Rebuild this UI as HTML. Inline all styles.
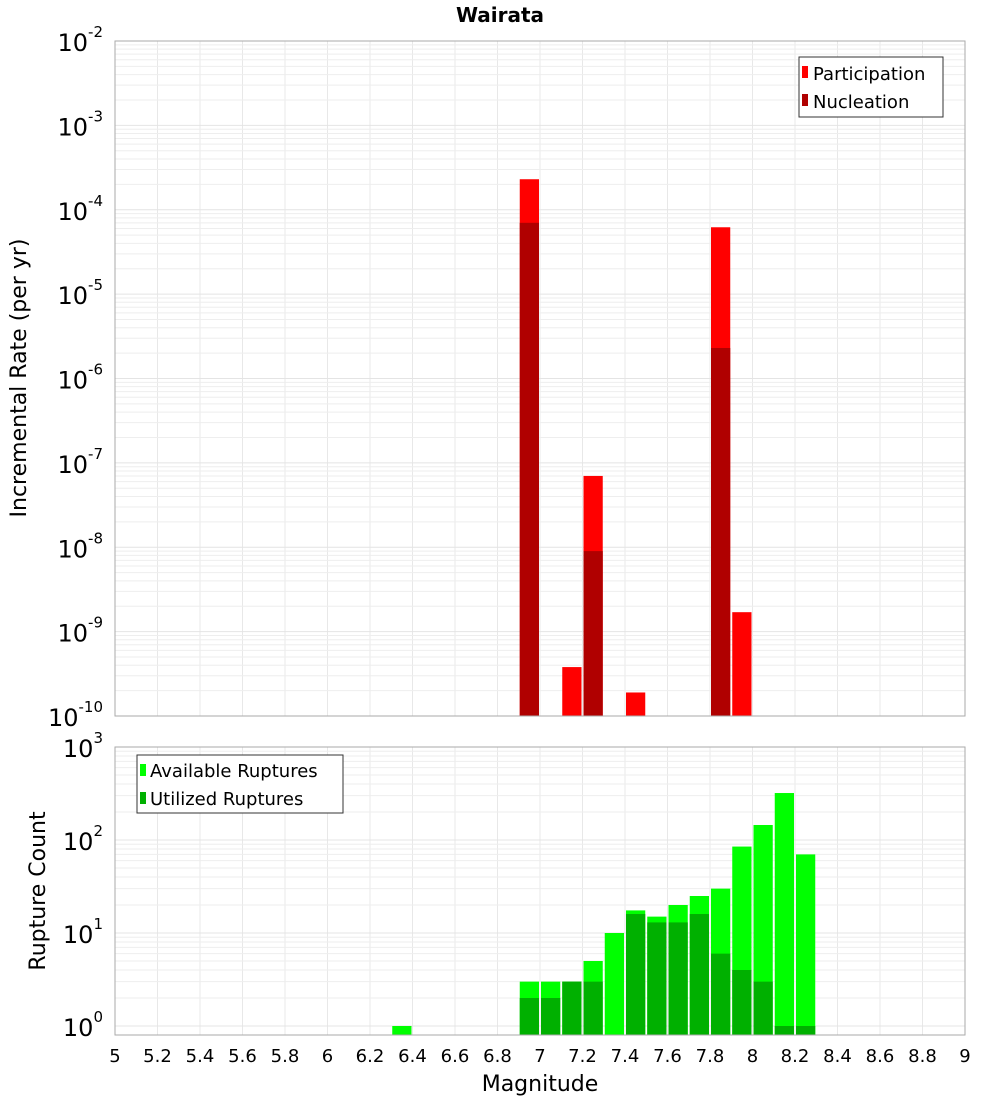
<!DOCTYPE html>
<html><head><meta charset="utf-8"><style>
body{margin:0;background:#fff;font-family:"Liberation Sans","DejaVu Sans",sans-serif}
</style></head><body>
<svg id="c" width="1000" height="1100" xmlns="http://www.w3.org/2000/svg" font-family="DejaVu Sans, Liberation Sans, sans-serif">
<text x="500" y="22" text-anchor="middle" font-size="20" font-weight="bold">Wairata</text>
<g id="top"></g><g id="bot"></g>
<text transform="translate(26,378) rotate(-90)" text-anchor="middle" font-size="22">Incremental Rate (per yr)</text>
<text transform="translate(45,891) rotate(-90)" text-anchor="middle" font-size="22">Rupture Count</text>
<text x="540" y="1091" text-anchor="middle" font-size="22">Magnitude</text>
</svg>
<script>
const topBins=[6.95,7.15,7.25,7.45,7.85,7.95];
const participation=[2.3e-4,3.8e-10,7e-8,1.9e-10,6.2e-5,1.7e-9];
const nucleation=[7e-5,0,9e-9,0,2.3e-6,0];
const botBins=[6.35,6.95,7.05,7.15,7.25,7.35,7.45,7.55,7.65,7.75,7.85,7.95,8.05,8.15,8.25];
const available=[1,3,3,3,5,10,17.5,15,20,25,30,85,145,320,70];
const utilized=[0,2,2,3,3,0,16,13,13,16,6,4,3,1,1];
const xTicks=["5","5.2","5.4","5.6","5.8","6","6.2","6.4","6.6","6.8","7","7.2","7.4","7.6","7.8","8","8.2","8.4","8.6","8.8","9"];
const NS="http://www.w3.org/2000/svg";
const X0=115,X1=965;
const xs=m=>X0+(m-5)/4*(X1-X0);
function el(p,t,a){const e=document.createElementNS(NS,t);for(const k in a)e.setAttribute(k,a[k]);p.appendChild(e);return e;}
function panel(g,top,bot,yDec0,yDec1,y0pix,decPx){
  const ys=v=>y0pix-(Math.log10(v)-yDec0)*decPx;
  // grid
  for(let i=0;i<=20;i++){const x=xs(5+i*0.2);const l=el(g,'line',{x1:x,x2:x,y1:top,y2:bot,stroke:'#e8e8e8'});}
  for(let d=yDec0;d<yDec1;d++)for(let k=1;k<10;k++){const y=ys(k*Math.pow(10,d));if(y<top||y>bot)continue;const l=el(g,'line',{x1:X0,x2:X1,y1:y,y2:y,stroke:k==1?'#e4e4e4':'#eeeeee'});}
  return ys;
}
function bar(g,m,v,ys,bot,col,name){
  if(!v)return;const y=Math.min(ys(v),bot);
  const r=el(g,'rect',{x:xs(m-0.05)+1,y:y,width:xs(m+0.05)-xs(m-0.05)-2,height:bot-y,fill:col});
  
}
function yLabels(g,yDec0,yDec1,ys,off){
  for(let d=yDec0;d<=yDec1;d++){const y=ys(Math.pow(10,d))+off;
    const t=el(g,'text',{x:103,y:y+10,'text-anchor':'end','font-size':24});
    
    t.appendChild(document.createTextNode('10'));
    const s=el(t,'tspan',{dy:-14,'font-size':15});s.textContent=String(d);}
}
// top
const gt=document.getElementById('top');
const ysT=panel(gt,41,716,-10,-2,716,84.375);
topBins.forEach((m,i)=>bar(gt,m,participation[i],ysT,716,'#ff0000','participation-bar'));
topBins.forEach((m,i)=>bar(gt,m,nucleation[i],ysT,716,'#b00000','nucleation-bar'));
el(gt,'rect',{x:X0,y:41,width:X1-X0,height:675,fill:'none',stroke:'#aaa'});
yLabels(gt,-10,-2,ysT,0);
let lg=el(gt,'g',{});
el(lg,'rect',{x:799,y:57,width:144,height:60,fill:'#fff',stroke:'#333'});
el(lg,'rect',{x:802,y:66,width:6,height:12,fill:'#ff0000'});
el(lg,'text',{x:813,y:80,'font-size':18}).textContent='Participation';
el(lg,'rect',{x:802,y:94,width:6,height:12,fill:'#b00000'});
el(lg,'text',{x:813,y:108,'font-size':18}).textContent='Nucleation';
// bottom
const gb=document.getElementById('bot');
const ysB=panel(gb,747,1035,0,3,1026,93);
botBins.forEach((m,i)=>bar(gb,m,available[i],ysB,1035,'#00ff00','available-bar'));
botBins.forEach((m,i)=>bar(gb,m,utilized[i],ysB,1035,'#00b000','utilized-bar'));
el(gb,'rect',{x:X0,y:747,width:X1-X0,height:288,fill:'none',stroke:'#aaa'});
yLabels(gb,0,3,ysB,0);
lg=el(gb,'g',{});
el(lg,'rect',{x:137,y:755,width:206,height:58,fill:'#fff',stroke:'#333'});
el(lg,'rect',{x:140,y:764,width:6,height:12,fill:'#00ff00'});
el(lg,'text',{x:150,y:777,'font-size':18}).textContent='Available Ruptures';
el(lg,'rect',{x:140,y:792,width:6,height:12,fill:'#00b000'});
el(lg,'text',{x:150,y:805,'font-size':18}).textContent='Utilized Ruptures';
xTicks.forEach((s,i)=>{const t=el(gb,'text',{x:xs(5+i*0.2),y:1062,'text-anchor':'middle','font-size':18});
t.textContent=s;});
</script>
</body></html>
